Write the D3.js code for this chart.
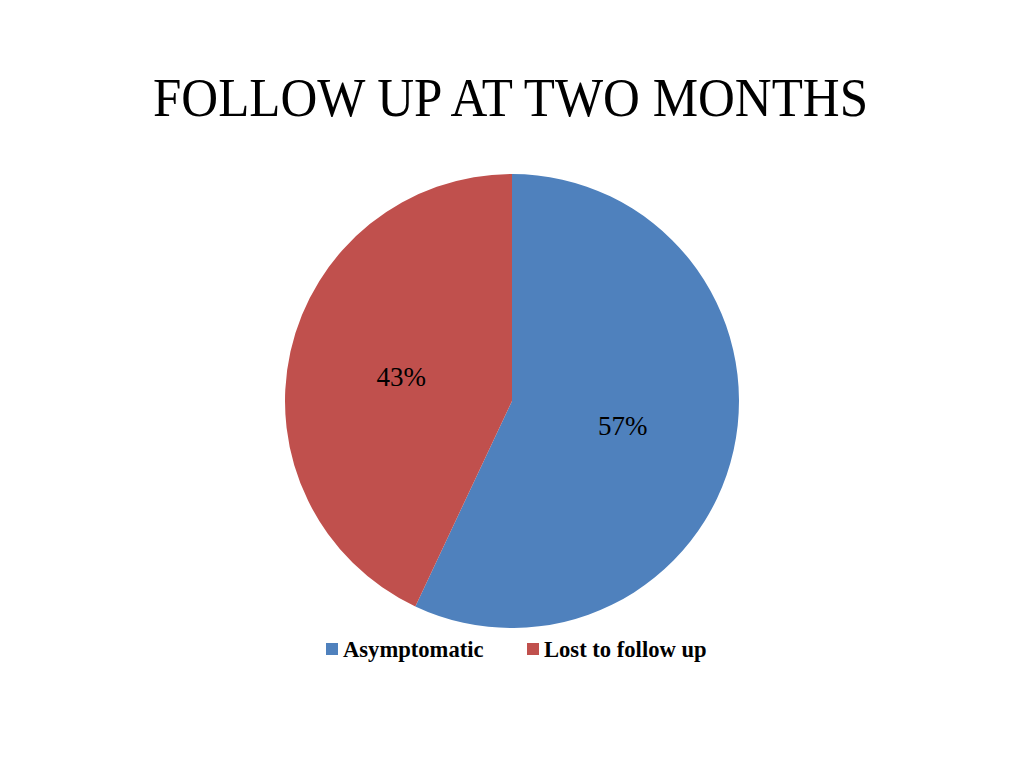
<!DOCTYPE html>
<html><head><meta charset="utf-8">
<script src="https://cdn.jsdelivr.net/npm/d3@7"></script>
<style>body{margin:0;background:#fff}</style>
</head><body>
<script>
const title = "FOLLOW UP AT TWO MONTHS";
const categories = ["Asymptomatic", "Lost to follow up"];
const values = [57, 43];
const colors = ["#4F81BD", "#C0504D"];

const W = 1024, H = 768;
const svg = d3.select("body").append("svg").attr("width", W).attr("height", H);

svg.append("text").attr("x", 153).attr("y", 116)
  .attr("textLength", 715).attr("lengthAdjust", "spacingAndGlyphs")
  .attr("font-family", "Liberation Serif, Times New Roman, serif").attr("font-size", 54)
  .attr("fill", "#000").text(title);

const cx = 512, cy = 401, R = 227;
const pie = d3.pie().sort(null).value(d => d)(values);
const arc = d3.arc().innerRadius(0).outerRadius(R);
const labelArc = d3.arc().innerRadius(R * 0.5).outerRadius(R * 0.5);
const g = svg.append("g").attr("transform", `translate(${cx},${cy})`);
g.selectAll("path").data(pie).join("path").attr("d", arc).attr("fill", (d, i) => colors[i]);
g.selectAll("text").data(pie).join("text")
  .attr("transform", d => `translate(${labelArc.centroid(d)})`)
  .attr("text-anchor", "middle").attr("dy", "0.35em")
  .attr("font-family", "Liberation Serif, Times New Roman, serif").attr("font-size", 27)
  .attr("fill", "#000").text(d => d.data + "%");

const legendX = [326, 527];
const lg = svg.append("g");
categories.forEach((c, i) => {
  lg.append("rect").attr("x", legendX[i]).attr("y", 643).attr("width", 12).attr("height", 12).attr("fill", colors[i]);
  lg.append("text").attr("x", legendX[i] + 17).attr("y", 657)
    .attr("font-family", "Liberation Serif, Times New Roman, serif").attr("font-size", 22.6).attr("font-weight", "bold")
    .attr("fill", "#000").text(c);
});
</script>
</body></html>
